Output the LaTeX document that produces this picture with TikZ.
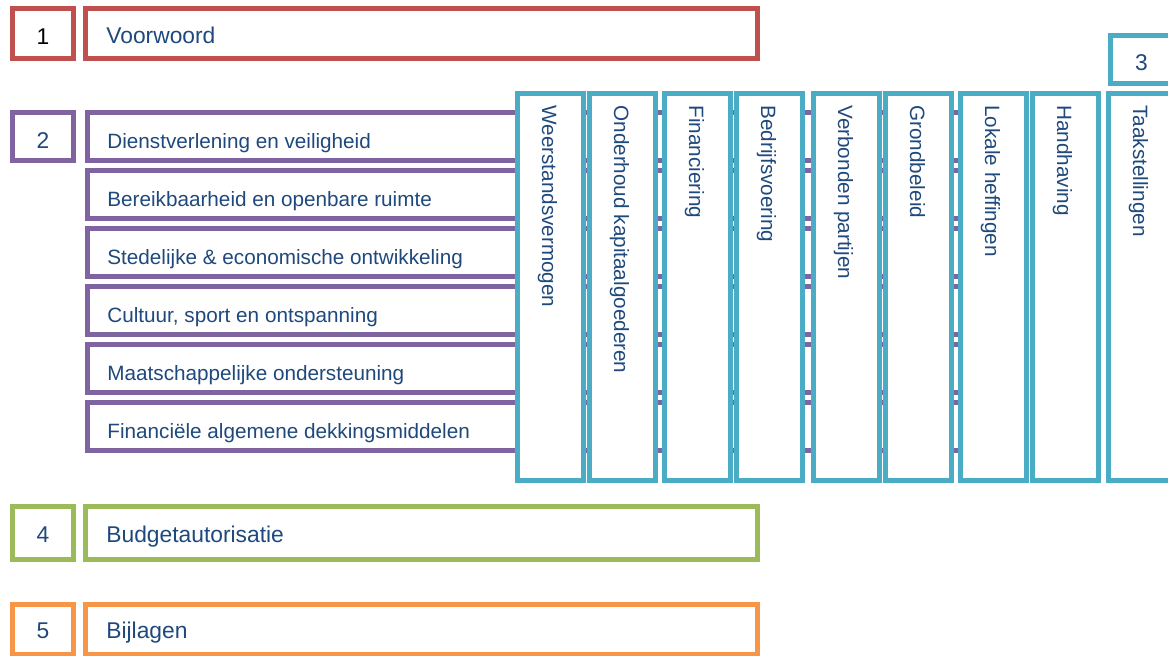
\documentclass[tikz,border=0pt]{standalone}
\usepackage{fontspec}
\setmainfont{Liberation Sans}
\usepackage{tikz}
\usetikzlibrary{positioning}
\usepackage{xcolor}

\definecolor{hdred}{HTML}{C0504D}
\definecolor{hdpurple}{HTML}{8064A2}
\definecolor{hdcyan}{HTML}{4BACC6}
\definecolor{hdgreen}{HTML}{9BBB59}
\definecolor{hdorange}{HTML}{F79646}
\definecolor{txtblue}{HTML}{1F497D}

\begin{document}
\begin{tikzpicture}[x=0.5pt, y=-0.5pt,
    box/.style={draw, line width=2.5pt, fill=white, inner sep=0pt},
    numbox/.style={box, minimum width=30.5pt},
    titlebox/.style={box, minimum width=336pt},
    rowbox/.style={box, draw=hdpurple, anchor=west, minimum width=456pt, minimum height=24pt},
    colbox/.style={box, draw=hdcyan, minimum width=33pt, minimum height=193.5pt},
    numtxt/.style={inner sep=0pt, anchor=base, text=txtblue, font=\fontsize{11.4}{13}\selectfont},
    headtxt/.style={numtxt, anchor=base west},
    rowtxt/.style={inner sep=0pt, anchor=base west, text=txtblue, font=\fontsize{10.35}{12}\selectfont},
    coltxt/.style={rowtxt, rotate=-90}]
    \useasboundingbox (0,0) rectangle (1168,655);

    % 1 Voorwoord
    \node[numbox, draw=hdred, minimum height=25pt] (num1) at (43,33.5) {};
    \node[titlebox, draw=hdred, minimum height=25pt] (voorwoord) at (421.5,33.5) {};
    \node[numtxt, text=black] (num1-t) at (43,44) {1};
    \node[headtxt] (voorwoord-t) at (106,43) {Voorwoord};

    % 2 Programma's (liggen achter de kolommen)
    \node[numbox, draw=hdpurple, minimum height=24pt] (num2) at (43,136.5) {};
    \node[numtxt] (num2-t) at (43,148.5) {2};
    \node[rowbox] (prog1) at (85,136.5) {};
    \node[rowbox] (prog2) at (85,194.5) {};
    \node[rowbox] (prog3) at (85,252.5) {};
    \node[rowbox] (prog4) at (85,310.5) {};
    \node[rowbox] (prog5) at (85,368.5) {};
    \node[rowbox] (prog6) at (85,426.5) {};
    \node[rowtxt] (prog1-t) at (107,148.5) {Dienstverlening en veiligheid};
    \node[rowtxt] (prog2-t) at (107,206.5) {Bereikbaarheid en openbare ruimte};
    \node[rowtxt] (prog3-t) at (107,264.5) {Stedelijke \& economische ontwikkeling};
    \node[rowtxt] (prog4-t) at (107,322.5) {Cultuur, sport en ontspanning};
    \node[rowtxt] (prog5-t) at (107,380.5) {Maatschappelijke ondersteuning};
    \node[rowtxt] (prog6-t) at (107,438.5) {Financiële algemene dekkingsmiddelen};

    % 3 Paragrafen
    \node[box, draw=hdcyan, minimum width=31pt, minimum height=24pt] (num3) at (1141.5,59.5) {};
    \node[numtxt] (num3-t) at (1141.5,70) {3};
    \node[colbox] (par1) at (550.5,287) {};
    \node[colbox] (par2) at (622.5,287) {};
    \node[colbox] (par3) at (697.5,287) {};
    \node[colbox] (par4) at (769.5,287) {};
    \node[colbox] (par5) at (846.5,287) {};
    \node[colbox] (par6) at (918.5,287) {};
    \node[colbox] (par7) at (993.5,287) {};
    \node[colbox] (par8) at (1065.5,287) {};
    \node[colbox] (par9) at (1141.5,287) {};
    \node[coltxt] (par1-t) at (542,105) {Weerstandsvermogen};
    \node[coltxt] (par2-t) at (614,105) {Onderhoud kapitaalgoederen};
    \node[coltxt] (par3-t) at (689,105) {Financiering};
    \node[coltxt] (par4-t) at (761,105) {Bedrijfsvoering};
    \node[coltxt] (par5-t) at (838,105) {Verbonden partijen};
    \node[coltxt] (par6-t) at (910,105) {Grondbeleid};
    \node[coltxt] (par7-t) at (985,105) {Lokale heffingen};
    \node[coltxt] (par8-t) at (1057,105) {Handhaving};
    \node[coltxt] (par9-t) at (1133,105) {Taakstellingen};

    % 4 Budgetautorisatie
    \node[numbox, draw=hdgreen, minimum height=26.3pt] (num4) at (43,532.8) {};
    \node[titlebox, draw=hdgreen, minimum height=26.3pt] (budget) at (421.5,532.8) {};
    \node[numtxt] (num4-t) at (43,542.7) {4};
    \node[headtxt] (budget-t) at (106,542.7) {Budgetautorisatie};

    % 5 Bijlagen
    \node[numbox, draw=hdorange, minimum height=25pt] (num5) at (43,629.5) {};
    \node[titlebox, draw=hdorange, minimum height=25pt] (bijlagen) at (421.5,629.5) {};
    \node[numtxt] (num5-t) at (43,638) {5};
    \node[headtxt] (bijlagen-t) at (106,638) {Bijlagen};
\end{tikzpicture}
\end{document}
